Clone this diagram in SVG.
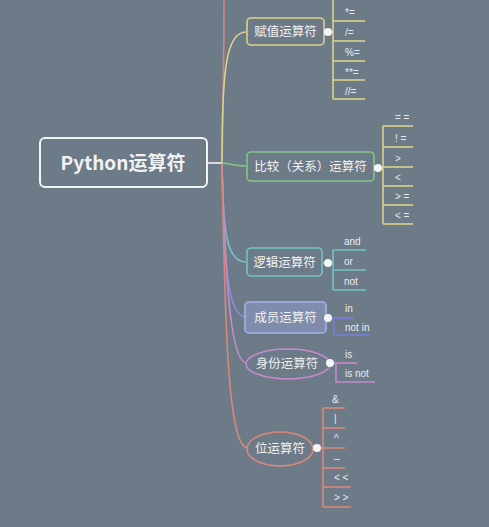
<svg xmlns="http://www.w3.org/2000/svg" width="489" height="527" viewBox="0 0 489 527">
<style>
.t{font-family:"Noto Sans CJK SC","Noto Sans",sans-serif;fill:#f2f2f2;}
.n{font-size:12.5px;}
.c{font-family:"Liberation Sans","Noto Sans CJK SC",sans-serif;font-size:10px;fill:#e8ecf0;}
.dot{fill:#f4f6f8;}
path,line{fill:none;}
</style>
<rect width="489" height="527" fill="#6d7a88"/>
<g id="connectors" stroke-width="1.6">
<line x1="207" y1="163" x2="222" y2="163" stroke="#f4f4f4"/>
<path d="M222,163 C223,110 224,60 224,0" stroke="#d8857a"/>
<path d="M222,163 C222,70 226,32 246,32" stroke="#d9d28a"/>
<path d="M222,163 C232,164 236,166 246,166" stroke="#86c486"/>
<path d="M222,164 C223,230 226,262 246,262" stroke="#72c4c2"/>
<path d="M222,164 C224,270 228,317 246,317" stroke="#8c8fe0"/>
<path d="M222,164 C226,300 232,363 247,363" stroke="#c48ccc"/>
<path d="M222,164 C225,330 228,448 248,448" stroke="#d8877a"/>
<g stroke="#d9d28a">
<line x1="333" y1="0" x2="333" y2="99"/>
<line x1="324" y1="32" x2="333" y2="32"/>
<line x1="333" y1="21" x2="365" y2="21"/>
<line x1="333" y1="41" x2="365" y2="41"/>
<line x1="333" y1="61" x2="365" y2="61"/>
<line x1="333" y1="80" x2="365" y2="80"/>
<line x1="333" y1="99" x2="365" y2="99"/>
</g>
<g stroke="#d9d28a">
<line x1="383" y1="126" x2="383" y2="224"/>
<line x1="374" y1="168" x2="383" y2="168"/>
<line x1="383" y1="126" x2="413" y2="126"/>
<line x1="383" y1="147" x2="413" y2="147"/>
<line x1="383" y1="167" x2="413" y2="167"/>
<line x1="383" y1="186" x2="413" y2="186"/>
<line x1="383" y1="205" x2="413" y2="205"/>
<line x1="383" y1="224" x2="413" y2="224"/>
</g>
<g stroke="#72c4c2">
<line x1="333" y1="250" x2="333" y2="290"/>
<line x1="322" y1="263" x2="333" y2="263"/>
<line x1="333" y1="250" x2="366" y2="250"/>
<line x1="333" y1="270" x2="366" y2="270"/>
<line x1="333" y1="290" x2="366" y2="290"/>
</g>
<g stroke="#7a7ee0">
<line x1="326" y1="318" x2="354" y2="318"/>
<path d="M334,318 L334,335 L370,335"/>
</g>
<g stroke="#c48ccc">
<line x1="330" y1="363" x2="357" y2="363"/>
<path d="M336,363 L336,382 L375,382"/>
</g>
<g stroke="#d8877a">
<line x1="323" y1="408" x2="323" y2="507"/>
<line x1="317" y1="448" x2="323" y2="448"/>
<line x1="323" y1="408" x2="345" y2="408"/>
<line x1="323" y1="428" x2="345" y2="428"/>
<line x1="323" y1="448" x2="345" y2="448"/>
<line x1="323" y1="468" x2="345" y2="468"/>
<line x1="323" y1="487" x2="351" y2="487"/>
<line x1="323" y1="507" x2="351" y2="507"/>
</g>
</g>
<g id="root">
<rect x="40" y="138" width="167" height="49" rx="5" fill="#6d7a88" stroke="#f4f4f4" stroke-width="2"/>
<text class="t" x="123" y="169.5" text-anchor="middle" font-size="19" font-weight="bold">Python运算符</text>
</g>
<g id="assign">
<rect x="247" y="18" width="77" height="27" rx="4" fill="#6d7a88" stroke="#d9d28a" stroke-width="1.6"/>
<text class="t n" x="285.5" y="36" text-anchor="middle">赋值运算符</text>
<circle class="dot" cx="328" cy="32" r="4"/>
<text class="c" x="345" y="16">*=</text>
<text class="c" x="345" y="36">/=</text>
<text class="c" x="345" y="56">%=</text>
<text class="c" x="345" y="76">**=</text>
<text class="c" x="345" y="95">//=</text>
</g>
<g id="compare">
<rect x="247" y="152" width="127" height="29" rx="4" fill="#6d7a88" stroke="#86c486" stroke-width="1.6"/>
<text class="t n" x="310.5" y="171" text-anchor="middle">比较（关系）运算符</text>
<circle class="dot" cx="378" cy="168" r="4"/>
<text class="c" x="395" y="121">= =</text>
<text class="c" x="395" y="142">! =</text>
<text class="c" x="395" y="162">&gt;</text>
<text class="c" x="395" y="181">&lt;</text>
<text class="c" x="395" y="200">&gt; =</text>
<text class="c" x="395" y="219">&lt; =</text>
</g>
<g id="logic">
<rect x="247" y="248" width="75" height="28" rx="4" fill="#6d7a88" stroke="#72c4c2" stroke-width="1.6"/>
<text class="t n" x="284.5" y="267" text-anchor="middle">逻辑运算符</text>
<circle class="dot" cx="328" cy="263" r="4"/>
<text class="c" x="344" y="245">and</text>
<text class="c" x="344" y="265">or</text>
<text class="c" x="344" y="285">not</text>
</g>
<g id="member">
<rect x="245" y="302" width="81" height="31" rx="4" fill="#7f8cab" stroke="#9aa5d8" stroke-width="2.2"/>
<text class="t n" x="285.5" y="322" text-anchor="middle">成员运算符</text>
<circle class="dot" cx="328" cy="318" r="4"/>
<text class="c" x="345" y="312">in</text>
<text class="c" x="345" y="331">not in</text>
</g>
<g id="identity">
<ellipse cx="288" cy="364" rx="42" ry="15" fill="#6d7a88" stroke="#c48ccc" stroke-width="1.6"/>
<text class="t n" x="287" y="368" text-anchor="middle">身份运算符</text>
<circle class="dot" cx="330" cy="363" r="4"/>
<text class="c" x="345" y="358">is</text>
<text class="c" x="345" y="377">is not</text>
</g>
<g id="bitwise">
<ellipse cx="280" cy="449" rx="33" ry="17" fill="#6d7a88" stroke="#d8877a" stroke-width="1.6"/>
<text class="t n" x="280" y="453" text-anchor="middle">位运算符</text>
<circle class="dot" cx="317" cy="448" r="4"/>
<text class="c" x="332" y="403">&amp;</text>
<text class="c" x="334" y="422">|</text>
<text class="c" x="334" y="442">^</text>
<text class="c" x="334" y="462">–</text>
<text class="c" x="334" y="481">&lt; &lt;</text>
<text class="c" x="334" y="501">&gt; &gt;</text>
</g>
</svg>
